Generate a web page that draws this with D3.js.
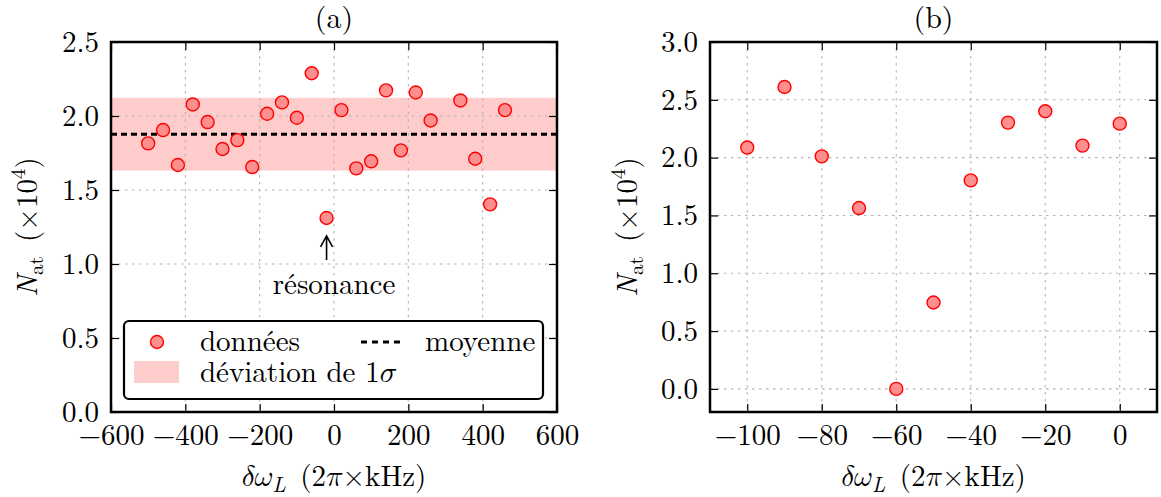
<!DOCTYPE html>
<html><head><meta charset="utf-8">
<script src="https://cdn.jsdelivr.net/npm/d3@7"></script>
<style>
body{margin:0;background:#fff}
svg{display:block}
</style>
</head><body>
<svg id="chart" width="1161" height="497"></svg>
<script>
// ---- data ----
const detuningA = [-500,-460,-420,-380,-340,-300,-260,-220,-180,-140,-100,-60,-20,20,60,100,140,180,220,260,340,380,420,460];
const atomsA    = [1.815,1.905,1.669,2.078,1.959,1.777,1.837,1.655,2.015,2.092,1.988,2.289,1.311,2.040,1.646,1.694,2.173,1.768,2.159,1.970,2.105,1.711,1.403,2.040];
const meanA  = 1.877;
const sigmaA = 0.246;
const resonanceX = -20;

const detuningB = [-100,-90,-80,-70,-60,-50,-40,-30,-20,-10,0];
const atomsB    = [2.087,2.611,2.011,1.564,0.0,0.747,1.803,2.303,2.401,2.104,2.294];

const xTicksA = [-600,-400,-200,0,200,400,600];
const yTicksA = [0.0,0.5,1.0,1.5,2.0,2.5];
const xTicksB = [-100,-80,-60,-40,-20,0];
const yTicksB = [0.0,0.5,1.0,1.5,2.0,2.5,3.0];

const titles = ["(a)","(b)"];
const legendLabels = ["données","moyenne","déviation de 1","σ"];

// ---- layout ----
const FONT = '"Latin Modern Roman","CMU Serif","Liberation Serif",serif';
const MATH = '"Latin Modern Math","Latin Modern Roman","DejaVu Serif",serif';
const svg = d3.select("#chart");
const FS = 29;
const fmtX = d => (d < 0 ? "\u2212" + Math.abs(d) : "" + d);
const fmtY = d => d.toFixed(1);

function greek(sel, txt, size){
  const t = sel.append("tspan").attr("class","greek").attr("font-style","italic").text(txt);
  if (size) t.attr("font-size", size);
  return t;
}

function panel(cfg){
  const {x0,x1,y0,y1,xDomain,yDomain,xTicks,yTicks,title,ylabX} = cfg;
  const x = d3.scaleLinear().domain(xDomain).range([x0,x1]);
  const y = d3.scaleLinear().domain(yDomain).range([y1,y0]);
  const g = svg.append("g");

  const grid = g.append("g").attr("stroke","#b3b3b3").attr("stroke-width",1.1).attr("stroke-dasharray","2.5,4.5").attr("fill","none");
  xTicks.forEach(t => grid.append("line").attr("x1",x(t)).attr("x2",x(t)).attr("y1",y0).attr("y2",y1));
  yTicks.forEach(t => grid.append("line").attr("x1",x0).attr("x2",x1).attr("y1",y(t)).attr("y2",y(t)));

  return {x,y,g,finish:function(){
    const ax = [
      {a:d3.axisBottom(x).tickValues(xTicks).tickFormat(fmtX), t:`translate(0,${y1})`, pad:12},
      {a:d3.axisTop(x).tickValues(xTicks).tickFormat(""), t:`translate(0,${y0})`, pad:3},
      {a:d3.axisLeft(y).tickValues(yTicks).tickFormat(fmtY), t:`translate(${x0},0)`, pad:12},
      {a:d3.axisRight(y).tickValues(yTicks).tickFormat(""), t:`translate(${x1},0)`, pad:3}
    ];
    ax.forEach(o => {
      o.a.tickSizeInner(-8).tickSizeOuter(0).tickPadding(o.pad);
      const ag = g.append("g").attr("transform",o.t).call(o.a);
      ag.select(".domain").remove();
      ag.selectAll(".tick line").attr("stroke","#000").attr("stroke-width",1.2);
      ag.selectAll("text").attr("font-size",FS).attr("fill","#000");
    });
    g.append("rect").attr("x",x0).attr("y",y0).attr("width",x1-x0).attr("height",y1-y0)
      .attr("fill","none").attr("stroke","#000").attr("stroke-width",2.5);
    g.append("text").attr("x",(x0+x1)/2).attr("y",y0-14).attr("text-anchor","middle")
      .attr("font-size",30).text(title);
    const xl = g.append("text").attr("x",(x0+x1)/2).attr("y",486).attr("text-anchor","middle").attr("font-size",FS);
    greek(xl, "\u{1D6FF}\u{1D714}");
    xl.append("tspan").attr("font-style","italic").attr("font-size",21).attr("dy",6).text("L");
    xl.append("tspan").attr("dy",-6).text("\u2002(2");
    greek(xl, "\u{1D70B}");
    xl.append("tspan").text("×kHz)");
    const yl = g.append("text").attr("transform",`translate(${ylabX},${(y0+y1)/2}) rotate(-90)`)
      .attr("text-anchor","middle").attr("font-size",FS);
    yl.append("tspan").attr("font-style","italic").text("N");
    yl.append("tspan").attr("font-size",21).attr("dy",6).text("at");
    yl.append("tspan").attr("dy",-6).text("\u2002(×10");
    yl.append("tspan").attr("font-size",21).attr("dy",-12).text("4");
    yl.append("tspan").attr("dy",12).text(")");
  }};
}

function dots(p, xs, ys){
  p.g.append("g").selectAll("circle").data(xs).join("circle")
    .attr("cx",(d)=>p.x(d)).attr("cy",(d,i)=>p.y(ys[i])).attr("r",6.5)
    .attr("fill","#ff8f8f").attr("stroke","#ff0000").attr("stroke-width",1.4);
}

// ---- panel (a) ----
const pa = panel({x0:111,x1:557,y0:42,y1:412,xDomain:[-600,600],yDomain:[0,2.5],
  xTicks:xTicksA,yTicks:yTicksA,title:titles[0],ylabX:37});
pa.g.insert("rect",":first-child")
  .attr("x",pa.x(-600)).attr("width",pa.x(600)-pa.x(-600))
  .attr("y",pa.y(meanA+sigmaA)).attr("height",pa.y(meanA-sigmaA)-pa.y(meanA+sigmaA))
  .attr("fill","#ffcccc");
pa.g.append("line").attr("x1",pa.x(-600)).attr("x2",pa.x(600)).attr("y1",pa.y(meanA)).attr("y2",pa.y(meanA))
  .attr("stroke","#000").attr("stroke-width",3).attr("stroke-dasharray","6,4");
dots(pa, detuningA, atomsA);
const ax0 = pa.x(resonanceX), ayTop = pa.y(1.311)+18, ayBot = pa.y(1.311)+42;
pa.g.append("path").attr("d",`M${ax0},${ayBot}V${ayTop}M${ax0-6},${ayTop+11}L${ax0},${ayTop}L${ax0+6},${ayTop+11}`)
  .attr("fill","none").attr("stroke","#000").attr("stroke-width",1.6);
pa.g.append("text").attr("x",334).attr("y",294).attr("text-anchor","middle").attr("font-size",FS).text("résonance");
const lg = pa.g.append("g");
lg.append("rect").attr("x",124).attr("y",321).attr("width",419).attr("height",78).attr("rx",5)
  .attr("fill","#fff").attr("stroke","#000").attr("stroke-width",2.2);
lg.append("circle").attr("cx",157).attr("cy",342).attr("r",6.5).attr("fill","#ff8f8f").attr("stroke","#ff0000").attr("stroke-width",1.4);
lg.append("text").attr("x",200).attr("y",351).attr("font-size",FS).text(legendLabels[0]);
lg.append("line").attr("x1",361).attr("x2",401).attr("y1",342).attr("y2",342)
  .attr("stroke","#000").attr("stroke-width",3).attr("stroke-dasharray","6,5");
lg.append("text").attr("x",425).attr("y",351).attr("font-size",FS).text(legendLabels[1]);
lg.append("rect").attr("x",134).attr("y",361).attr("width",45).attr("height",22).attr("fill","#ffcccc");
const t3 = lg.append("text").attr("x",200).attr("y",382).attr("font-size",FS);
t3.append("tspan").text(legendLabels[2]);
greek(t3, "\u{1D70E}");
pa.finish();

// ---- panel (b) ----
const pb = panel({x0:710,x1:1157,y0:42,y1:412,xDomain:[-110,10],yDomain:[-0.2,3.0],
  xTicks:xTicksB,yTicks:yTicksB,title:titles[1],ylabX:637});
dots(pb, detuningB, atomsB);
pb.finish();

svg.selectAll("text").style("font-family", FONT);
svg.selectAll("tspan.greek").style("font-family", MATH).attr("font-style","normal");
</script>
</body></html>
